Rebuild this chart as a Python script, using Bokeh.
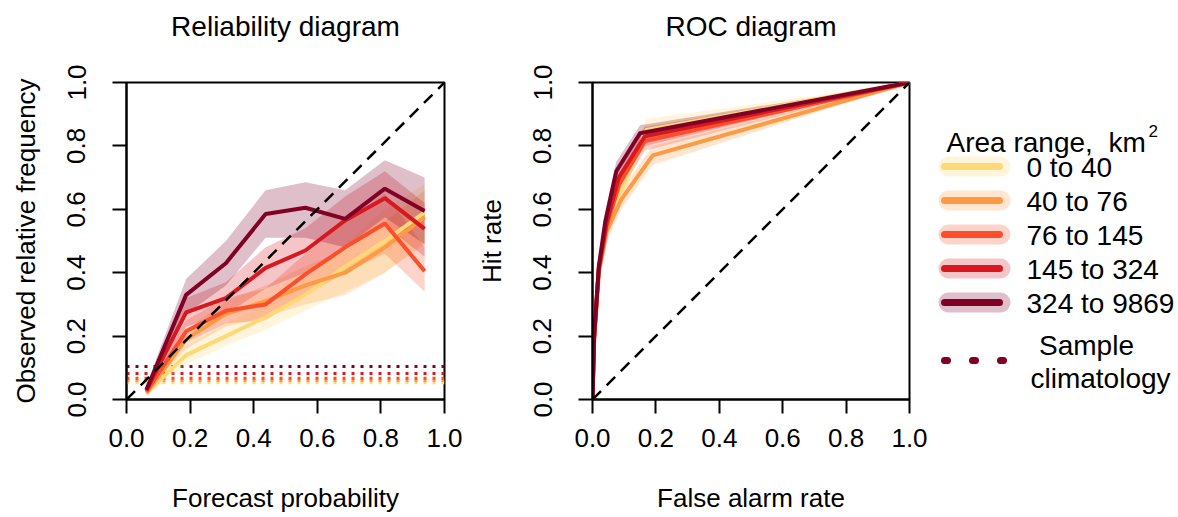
from bokeh.plotting import figure
from bokeh.layouts import row
from bokeh.models import Range1d, FixedTicker, PrintfTickFormatter, Span, Slope, Title
from bokeh.embed import file_html
from bokeh.resources import INLINE
from bokeh.core.properties import value

FONT = "Liberation Sans"

# ---------------- data ----------------
groups = ["0 to 40", "40 to 76", "76 to 145", "145 to 324", "324 to 9869"]
colors = ["#FED976", "#FD9A44", "#FC4E2A", "#D7191F", "#800026"]

prob_bins = [0.0625, 0.1875, 0.3125, 0.4375, 0.5625, 0.6875, 0.8125, 0.9375]

rel_a = [0.020, 0.140, 0.200, 0.260, 0.330, 0.420, 0.500, 0.590]
rel_a_lo = [0.010, 0.110, 0.170, 0.220, 0.280, 0.340, 0.400, 0.500]
rel_a_hi = [0.030, 0.170, 0.240, 0.300, 0.380, 0.490, 0.600, 0.680]

rel_b = [0.020, 0.190, 0.270, 0.310, 0.360, 0.400, 0.480, 0.575]
rel_b_lo = [0.010, 0.160, 0.230, 0.260, 0.300, 0.330, 0.400, 0.490]
rel_b_hi = [0.030, 0.220, 0.310, 0.360, 0.420, 0.470, 0.560, 0.660]

rel_c = [0.025, 0.215, 0.280, 0.300, 0.395, 0.480, 0.555, 0.405]
rel_c_lo = [0.015, 0.180, 0.240, 0.250, 0.330, 0.400, 0.460, 0.340]
rel_c_hi = [0.040, 0.250, 0.320, 0.350, 0.460, 0.560, 0.650, 0.480]

rel_d = [0.030, 0.275, 0.320, 0.415, 0.470, 0.565, 0.635, 0.538]
rel_d_lo = [0.020, 0.230, 0.270, 0.350, 0.400, 0.480, 0.550, 0.450]
rel_d_hi = [0.045, 0.320, 0.370, 0.480, 0.540, 0.640, 0.720, 0.620]

rel_e = [0.030, 0.330, 0.430, 0.585, 0.605, 0.570, 0.665, 0.595]
rel_e_lo = [0.020, 0.270, 0.360, 0.510, 0.510, 0.480, 0.575, 0.490]
rel_e_hi = [0.045, 0.380, 0.500, 0.660, 0.685, 0.660, 0.755, 0.700]

climatology = [0.053, 0.060, 0.067, 0.082, 0.104]

roc_far_a = [0.0, 0.005, 0.020, 0.045, 0.090, 0.170, 1.0]
roc_hit_a = [0.0, 0.200, 0.420, 0.570, 0.660, 0.850, 1.0]
roc_hit_a_lo = [0.0, 0.170, 0.390, 0.540, 0.630, 0.820, 1.0]
roc_hit_a_hi = [0.0, 0.230, 0.450, 0.600, 0.690, 0.885, 1.0]

roc_far_b = [0.0, 0.005, 0.020, 0.045, 0.090, 0.190, 1.0]
roc_hit_b = [0.0, 0.180, 0.400, 0.530, 0.630, 0.770, 1.0]
roc_hit_b_lo = [0.0, 0.150, 0.370, 0.500, 0.600, 0.740, 1.0]
roc_hit_b_hi = [0.0, 0.210, 0.430, 0.560, 0.660, 0.800, 1.0]

roc_far_c = [0.0, 0.005, 0.020, 0.045, 0.085, 0.165, 1.0]
roc_hit_c = [0.0, 0.190, 0.410, 0.550, 0.680, 0.815, 1.0]
roc_hit_c_lo = [0.0, 0.160, 0.380, 0.520, 0.650, 0.785, 1.0]
roc_hit_c_hi = [0.0, 0.220, 0.440, 0.580, 0.710, 0.845, 1.0]

roc_far_d = [0.0, 0.005, 0.020, 0.045, 0.083, 0.165, 1.0]
roc_hit_d = [0.0, 0.195, 0.415, 0.560, 0.700, 0.830, 1.0]
roc_hit_d_lo = [0.0, 0.165, 0.385, 0.530, 0.670, 0.800, 1.0]
roc_hit_d_hi = [0.0, 0.225, 0.445, 0.590, 0.730, 0.860, 1.0]

roc_far_e = [0.0, 0.005, 0.020, 0.040, 0.075, 0.150, 1.0]
roc_hit_e = [0.0, 0.200, 0.420, 0.560, 0.720, 0.840, 1.0]
roc_hit_e_lo = [0.0, 0.170, 0.390, 0.530, 0.690, 0.815, 1.0]
roc_hit_e_hi = [0.0, 0.230, 0.450, 0.590, 0.750, 0.865, 1.0]

axis_ticks = [0.0, 0.2, 0.4, 0.6, 0.8, 1.0]

rel_series = [(rel_a, rel_a_lo, rel_a_hi), (rel_b, rel_b_lo, rel_b_hi),
              (rel_c, rel_c_lo, rel_c_hi), (rel_d, rel_d_lo, rel_d_hi),
              (rel_e, rel_e_lo, rel_e_hi)]
roc_series = [(roc_far_a, roc_hit_a, roc_hit_a_lo, roc_hit_a_hi),
              (roc_far_b, roc_hit_b, roc_hit_b_lo, roc_hit_b_hi),
              (roc_far_c, roc_hit_c, roc_hit_c_lo, roc_hit_c_hi),
              (roc_far_d, roc_hit_d, roc_hit_d_lo, roc_hit_d_hi),
              (roc_far_e, roc_hit_e, roc_hit_e_lo, roc_hit_e_hi)]

BAND_ALPHA = 0.25
TICK_TXT = "26px"
LAB_TXT = "26px"
TITLE_TXT = "28px"
LEG_TXT = "28px"
TOP, BOTTOM = 82, 118


def style(p, title, xlabel, ylabel):
    # invisible spacer panel between the frame and the title
    p.add_layout(Title(text="\u00a0", text_font_size="10px", standoff=26), "above")
    p.title.text = title
    p.title.align = "center"
    p.title.vertical_align = "top"
    p.title.standoff = 0
    p.title.text_font = FONT
    p.title.text_font_size = TITLE_TXT
    p.title.text_font_style = "normal"
    p.title.text_color = "black"
    p.outline_line_color = "black"
    p.outline_line_width = 2
    p.outline_line_alpha = 1
    p.xgrid.visible = False
    p.ygrid.visible = False
    p.background_fill_color = "white"
    p.border_fill_color = "white"
    for ax in (p.xaxis[0], p.yaxis[0]):
        ax.ticker = FixedTicker(ticks=axis_ticks)
        ax.formatter = PrintfTickFormatter(format="%.1f")
        ax.major_tick_out = 14
        ax.major_tick_in = 0
        ax.minor_tick_out = 0
        ax.minor_tick_in = 0
        ax.major_tick_line_width = 2
        ax.major_tick_line_color = "black"
        ax.axis_line_width = 2
        ax.axis_line_color = "black"
        ax.major_label_text_font = FONT
        ax.major_label_text_font_size = TICK_TXT
        ax.major_label_text_color = "black"
        ax.axis_label_text_font = FONT
        ax.axis_label_text_font_size = LAB_TXT
        ax.axis_label_text_font_style = "normal"
        ax.axis_label_text_color = "black"
    p.xaxis[0].axis_label = xlabel
    p.yaxis[0].axis_label = ylabel
    p.xaxis[0].major_label_standoff = 15
    p.xaxis[0].axis_label_standoff = 33
    p.yaxis[0].major_label_orientation = "vertical"
    p.yaxis[0].major_label_standoff = 27
    p.yaxis[0].axis_label_standoff = 24


# ---------------- reliability diagram ----------------
p1 = figure(width=464, height=517, x_range=Range1d(0, 1), y_range=Range1d(0, 1),
            output_backend="svg", toolbar_location=None,
            min_border_left=126, min_border_right=20, min_border_top=TOP,
            min_border_bottom=BOTTOM)
style(p1, "Reliability diagram", "Forecast probability", "Observed relative frequency")

for c, col in zip(climatology, colors):
    p1.add_layout(Span(location=c, dimension="width", line_color=col,
                       line_width=3, line_dash="3 6", level="underlay"))
for (y, lo, hi), col in zip(rel_series, colors):
    p1.varea(x=prob_bins, y1=lo, y2=hi, fill_color=col, fill_alpha=BAND_ALPHA)
for (y, lo, hi), col in zip(rel_series, colors):
    p1.line(x=prob_bins, y=y, line_color=col, line_width=4)
p1.add_layout(Slope(gradient=1, y_intercept=0, line_color="black",
                    line_width=2.5, line_dash="12 8"))

# ---------------- ROC diagram ----------------
p2 = figure(width=466, height=517, x_range=Range1d(0, 1), y_range=Range1d(0, 1),
            output_backend="svg", toolbar_location=None,
            min_border_left=128, min_border_right=21, min_border_top=TOP,
            min_border_bottom=BOTTOM)
style(p2, "ROC diagram", "False alarm rate", "Hit rate")

for (fx, hy, lo, hi), col in zip(roc_series, colors):
    p2.varea(x=fx, y1=lo, y2=hi, fill_color=col, fill_alpha=BAND_ALPHA)
for (fx, hy, lo, hi), col in zip(roc_series, colors):
    p2.line(x=fx, y=hy, line_color=col, line_width=4, line_join="round")
p2.add_layout(Slope(gradient=1, y_intercept=0, line_color="black",
                    line_width=2.5, line_dash="12 8"))

# ---------------- legend panel (coordinates in page pixels) ----------------
p3 = figure(width=248, height=517, x_range=Range1d(930, 1178),
            y_range=Range1d(517 - BOTTOM, TOP),
            output_backend="svg", toolbar_location=None,
            min_border_left=0, min_border_right=0,
            min_border_top=TOP, min_border_bottom=BOTTOM)
p3.axis.visible = False
p3.xgrid.visible = False
p3.ygrid.visible = False
p3.outline_line_color = None

p3.text(x=[946], y=[142], text=["Area range,\u00a0\u00a0km"], text_font=value(FONT),
        text_font_size=LEG_TXT, text_baseline="alphabetic", text_align="left",
        text_color="black")
p3.text(x=[1148], y=[130], text=["2"], text_font=value(FONT),
        text_font_size="17px", text_baseline="alphabetic", text_align="left",
        text_color="black")

item_y0 = 166
item_dy = 34
for i, (g, col) in enumerate(zip(groups, colors)):
    yy = item_y0 + i * item_dy
    p3.line(x=[948, 1000], y=[yy, yy], line_color=col, line_alpha=BAND_ALPHA,
            line_width=20, line_cap="round")
    p3.line(x=[944, 999], y=[yy, yy], line_color=col, line_width=7, line_cap="round")
    p3.text(x=[1026], y=[yy + 1], text=[g], text_font=value(FONT), text_font_size=LEG_TXT,
            text_baseline="middle", text_align="left", text_color="black")

p3.line(x=[944, 1003], y=[360, 360], line_color=colors[-1], line_width=7,
        line_cap="round", line_dash="3 25")
p3.text(x=[1086], y=[345], text=["Sample"], text_font=value(FONT), text_font_size=LEG_TXT,
        text_baseline="middle", text_align="center", text_color="black")
p3.text(x=[1100], y=[378], text=["climatology"], text_font=value(FONT),
        text_font_size=LEG_TXT, text_baseline="middle", text_align="center",
        text_color="black")

layout = row(p1, p2, p3)
open("out.html", "w").write(file_html(layout, INLINE))
